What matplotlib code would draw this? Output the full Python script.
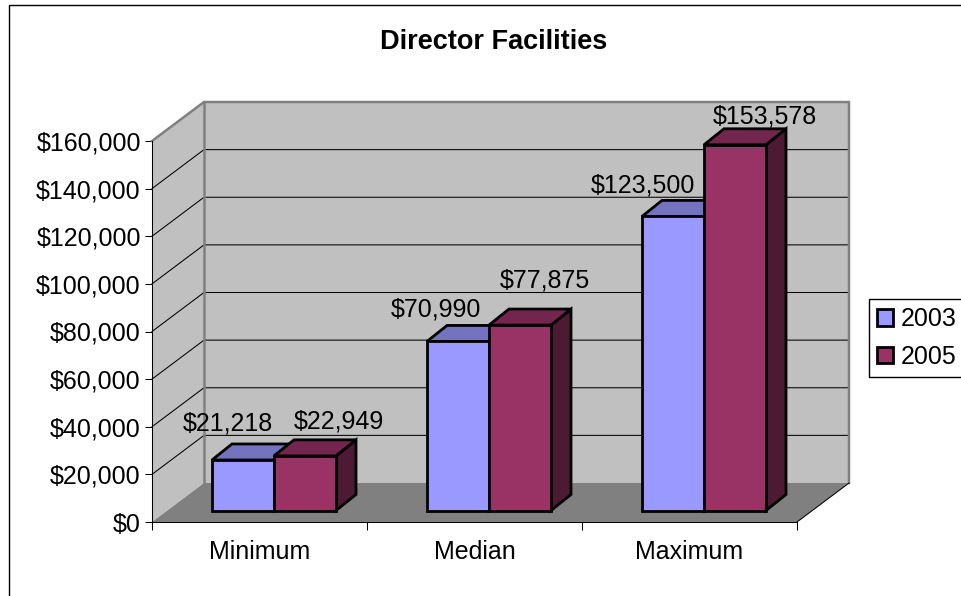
import matplotlib
matplotlib.use("Agg")
import matplotlib.pyplot as plt
from matplotlib.patches import Polygon, Patch, Rectangle
from matplotlib.ticker import FuncFormatter

plt.rcParams['font.family'] = ['Liberation Sans', 'DejaVu Sans']

TITLE = "Director Facilities"
categories = ["Minimum", "Median", "Maximum"]
series_names = ["2003", "2005"]
values_2003 = [21218, 70990, 123500]
values_2005 = [22949, 77875, 153578]
y_ticks = [0, 20000, 40000, 60000, 80000, 100000, 120000, 140000, 160000]
# data-label offsets from each bar's front top-left corner, in pixels
label_offsets_2003 = [(16, 36), (9, 32), (1, 31)]
label_offsets_2005 = [(65, 34), (56, 45), (61, 28)]

W, H = 961, 596
L, R, T, B = 152, 797, 141, 522   # front plane, pixels
fig = plt.figure(figsize=(W / 100, H / 100), dpi=100, facecolor="white")
ax = fig.add_axes([L / W, 1 - B / H, (R - L) / W, (B - T) / H])
ax.set_xlim(0, len(categories))
ax.set_ylim(0, y_ticks[-1])
ax.patch.set_visible(False)

px = len(categories) / (R - L)      # x data per pixel
py = y_ticks[-1] / (B - T)          # y data per pixel
WALL_DX, WALL_DY = 52 * px, 39 * py
BAR_DX, BAR_DY = 20 * px, 16 * py
BASE_DY = 11.5 * py
BAR_START, BAR_W = 60 * px, 62 * px
lw_bar = 2.0


def poly(pts, fc, ec="none", lw=0, z=1):
    ax.add_patch(Polygon(pts, closed=True, facecolor=fc, edgecolor=ec, linewidth=lw,
                         zorder=z, clip_on=False, joinstyle="miter"))


xmax = len(categories)
top = y_ticks[-1]
# side wall, back wall, floor
poly([(0, 0), (WALL_DX, WALL_DY), (WALL_DX, top + WALL_DY), (0, top)], "#C0C0C0", z=1)
poly([(WALL_DX, WALL_DY), (xmax + WALL_DX, WALL_DY), (xmax + WALL_DX, top + WALL_DY),
      (WALL_DX, top + WALL_DY)], "#C0C0C0", z=1)
poly([(0, 0), (xmax, 0), (xmax + WALL_DX, WALL_DY), (WALL_DX, WALL_DY)], "#808080", z=1)

# gridlines
for t in y_ticks[1:-1]:
    ax.plot([0, WALL_DX, xmax + WALL_DX], [t, t + WALL_DY, t + WALL_DY], color="black",
            lw=0.75, zorder=1.5, clip_on=False, solid_joinstyle="miter")
ax.plot([0, WALL_DX, xmax + WALL_DX, xmax + WALL_DX],
        [top, top + WALL_DY, top + WALL_DY, WALL_DY], color="#808080", lw=1.8,
        zorder=1.6, clip_on=False, solid_joinstyle="miter")
ax.plot([WALL_DX, WALL_DX], [WALL_DY, top + WALL_DY], color="#808080", lw=1.8,
        zorder=1.6, clip_on=False)
ax.plot([xmax, xmax + WALL_DX], [0, WALL_DY], color="black", lw=0.75, zorder=1.7, clip_on=False)


def bar(x, v, front, topc, side, z):
    y0, y1 = BASE_DY, BASE_DY + v
    x1 = x + BAR_W
    poly([(x1, y0), (x1 + BAR_DX, y0 + BAR_DY), (x1 + BAR_DX, y1 + BAR_DY), (x1, y1)],
         side, "black", lw_bar, z)
    poly([(x, y1), (x1, y1), (x1 + BAR_DX, y1 + BAR_DY), (x + BAR_DX, y1 + BAR_DY)],
         topc, "black", lw_bar, z)
    poly([(x, y0), (x1, y0), (x1, y1), (x, y1)], front, "black", lw_bar, z)


def label(x, v, off):
    ax.annotate(f"${v:,.0f}", xy=(x, BASE_DY + v), xycoords="data",
                xytext=(off[0] * 0.72, off[1] * 0.72), textcoords="offset points",
                ha="center", va="center", fontsize=18, color="black",
                annotation_clip=False, zorder=6)


for i, cat in enumerate(categories):
    x0 = i + BAR_START
    bar(x0, values_2003[i], "#9999FF", "#7373BF", "#4D4D80", 2 + i * 0.1)
    bar(x0 + BAR_W, values_2005[i], "#993366", "#73264D", "#4D1A33", 2.05 + i * 0.1)
    label(x0, values_2003[i], label_offsets_2003[i])
    label(x0 + BAR_W, values_2005[i], label_offsets_2005[i])

# axes
for s in ("top", "right"):
    ax.spines[s].set_visible(False)
ax.spines["left"].set_linewidth(0.75)
ax.spines["bottom"].set_linewidth(0.75)
ax.set_yticks(y_ticks)
ax.yaxis.set_major_formatter(FuncFormatter(lambda v, _: f"${v:,.0f}"))
ax.tick_params(axis="y", length=5, width=0.75, pad=3, labelsize=18)
ax.set_xticks(range(len(categories) + 1))
ax.set_xticklabels([])
ax.set_xticks([i + 0.5 for i in range(len(categories))], minor=True)
ax.set_xticklabels(categories, minor=True, fontsize=18)
ax.tick_params(axis="x", which="major", length=6, width=0.75)
ax.tick_params(axis="x", which="minor", length=0, pad=13)

# outer frame, running off the right and bottom edges
fig.add_artist(Rectangle((9 / W, -0.02), 1.02 - 9 / W, (1 - 5 / H) + 0.02,
                         transform=fig.transFigure, facecolor="none", edgecolor="black",
                         linewidth=1.0, zorder=0))

fig.text(494 / W, 1 - 42 / H, TITLE, ha="center", va="center", fontsize=19.5, fontweight="bold")

handles = [Patch(facecolor="#9999FF", edgecolor="black", linewidth=lw_bar),
           Patch(facecolor="#993366", edgecolor="black", linewidth=lw_bar)]
fig.legend(handles, series_names, loc="upper left",
           bbox_to_anchor=(869 / W, 1 - 299 / H), borderaxespad=0,
           fontsize=18, frameon=True, fancybox=False, edgecolor="black", framealpha=1,
           handlelength=0.62, handleheight=0.62, handletextpad=0.3, borderpad=0.33,
           labelspacing=0.55)

fig.savefig("out.png", dpi=100)
